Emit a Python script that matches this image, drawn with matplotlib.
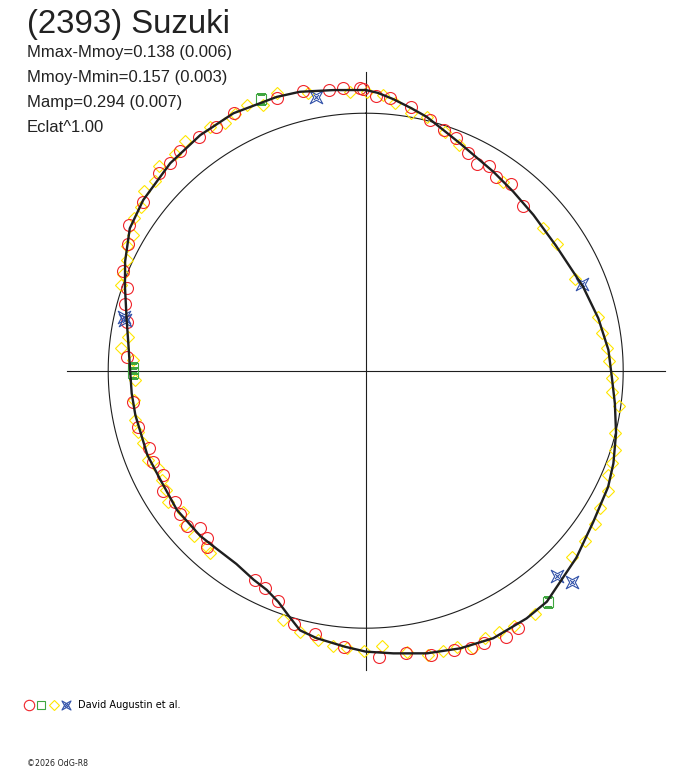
import numpy as np
import matplotlib
matplotlib.use('Agg')
import matplotlib.pyplot as plt
from matplotlib.lines import Line2D
from matplotlib.legend_handler import HandlerTuple
from matplotlib.path import Path

# ---------------- data ----------------
title = "(2393) Suzuki"
stats_lines = ["Mmax-Mmoy=0.138 (0.006)", "Mmoy-Mmin=0.157 (0.003)",
               "Mamp=0.294 (0.007)", "Eclat^1.00"]
legend_label = "David Augustin et al."
footer = "\u00a92026 OdG-R8"

# fitted lightcurve: phase angle (deg, clockwise from top) and radius (ref circle = 1)
fit_phase = [0, 2.5, 5.8, 9.8, 13.5, 17.9, 22.5, 32.7, 39.5, 47.1, 56.6, 68.9, 77.3, 85.1,
             91.4, 97.5, 104, 110.5, 115.6, 123.6, 131.6, 141.9, 147, 154.5, 161.2, 167.8,
             174.4, 180, 184.3, 190.4, 194.2, 197.1, 200.7, 204.3, 208.2, 213.8, 220, 225,
             233.6, 242.7, 248.9, 259.1, 264.5, 270.2, 276.6, 282, 289.2, 294.4, 301.1,
             307.5, 316.7, 324.9, 332.8, 342, 346.7, 353.4, 360]
fit_radius = [1.090, 1.080, 1.060, 1.035, 1.014, 0.982, 0.956, 0.918, 0.901, 0.889, 0.884,
              0.905, 0.926, 0.946, 0.956, 0.976, 1.002, 1.027, 1.044, 1.061, 1.094, 1.140,
              1.147, 1.151, 1.139, 1.123, 1.103, 1.091, 1.075, 1.056, 1.040, 1.002, 0.960,
              0.934, 0.921, 0.903, 0.902, 0.908, 0.911, 0.903, 0.909, 0.911, 0.913, 0.915,
              0.928, 0.949, 0.990, 1.026, 1.070, 1.089, 1.107, 1.118, 1.124, 1.118, 1.113,
              1.097, 1.090]

red_phase = [347.4, 352.6, 355.5, 358.8, 341.9, 333.0, 328.4, 324.4, 319.8, 316.7, 313.6,
             307.1, 301.6, 298.1, 292.4, 289.1, 285.4, 281.6, 273.3,
             359.4, 2.1, 5.0, 9.7, 14.4, 18.1, 21.1, 25.3, 28.3, 31.1, 34.0, 37.9, 43.6,
             149.3, 152.2, 156.5, 159.3, 162.4, 167.1, 171.9, 177.3,
             262.3, 256.2, 250.4, 246.7, 242.8, 239.3, 235.5, 232.3, 229.1, 226.4, 223.6,
             222.0, 207.9, 204.8, 200.8, 195.7, 190.9, 184.4]
red_radius = [1.114, 1.099, 1.103, 1.097, 1.115, 1.124, 1.112, 1.115, 1.117, 1.107, 1.111,
              1.086, 1.080, 1.047, 1.021, 0.979, 0.969, 0.945, 0.930,
              1.094, 1.068, 1.062, 1.039, 1.005, 0.982, 0.970, 0.934, 0.913, 0.930, 0.906,
              0.917, 0.884,
              1.160, 1.167, 1.154, 1.153, 1.138, 1.133, 1.109, 1.114,
              0.911, 0.910, 0.892, 0.901, 0.886, 0.914, 0.899, 0.911, 0.920, 0.888, 0.896,
              0.920, 0.920, 0.931, 0.957, 1.023, 1.042, 1.075]

yellow_phase = [356.8, 0.2, 348.3, 342.2, 338.9, 335.9, 333.0, 330.4, 327.4, 321.8, 318.7,
                314.7, 312.0, 309.0, 306.1, 303.4, 300.3, 297.7, 294.8, 291.7, 289.3, 278.2,
                275.2, 272.6,
                3.5, 6.3, 9.9, 13.5, 18.4, 22.5, 36.1, 51.3, 56.5, 66.3, 76.9, 81.0, 84.6, 87.7,
                91.6, 94.9, 97.9, 104.1, 107.6, 110.6, 113.3, 116.4, 120.3, 123.8, 127.8,
                132.1, 145.2, 149.8, 152.9, 155.9, 158.8, 161.8, 164.5, 167.6, 171.7, 176.7,
                180.3,
                267.7, 262.8, 257.9, 255.0, 251.9, 247.7, 244.8, 241.8, 239.1, 236.4, 232.3,
                229.5, 226.1, 222.1, 220.5, 198.3, 194.1, 190.0, 186.7, 183.9]
yellow_radius = [1.085, 1.083, 1.100, 1.131, 1.106, 1.131, 1.118, 1.105, 1.122, 1.135, 1.121,
                 1.131, 1.101, 1.110, 1.080, 1.080, 1.045, 1.045, 1.023, 1.014, 1.008, 0.931,
                 0.955, 0.903,
                 1.073, 1.045, 1.015, 1.014, 0.978, 0.949, 0.908, 0.884, 0.889, 0.887, 0.927,
                 0.928, 0.942, 0.947,
                 0.956, 0.961, 0.994, 0.998, 1.016, 1.023, 1.023, 1.050, 1.054, 1.072, 1.078,
                 1.082, 1.152, 1.146, 1.139, 1.136, 1.156, 1.129, 1.129, 1.131, 1.105, 1.070,
                 1.089,
                 0.897, 0.907, 0.916, 0.914, 0.909, 0.913, 0.890, 0.899, 0.903, 0.920, 0.895,
                 0.923, 0.924, 0.921, 0.932, 1.020, 1.045, 1.062, 1.075, 1.080]

green_phase = [338.9, 270.6, 269.4, 141.8]
green_radius = [1.130, 0.903, 0.904, 1.143]

blue_phase = [349.7, 282.5, 281.8, 68.2, 137.1, 135.8]
blue_radius = [1.081, 0.961, 0.955, 0.903, 1.089, 1.147]

ref_radius = 1.0
axis_extent = 1.161

# ---------------- figure ----------------
W, H = 688, 768
fig = plt.figure(figsize=(W / 100, H / 100), dpi=100)
fig.patch.set_facecolor('white')

cx, cy, rpx = 365.7, 370.7, 257.5
rmax = 1.2
half = rmax * rpx
ax = fig.add_axes([(cx - half) / W, (H - cy - half) / H, 2 * half / W, 2 * half / H],
                  projection='polar')
ax.set_theta_zero_location('N')
ax.set_theta_direction(-1)
ax.set_rlim(0, rmax)
ax.set_axis_off()

line_col = '#1e1e1e'
# reference circle
tt = np.linspace(0, 2 * np.pi, 721)
ax.plot(tt, np.full_like(tt, ref_radius), color=line_col, lw=0.8)
# cross axes
for a in [0, 90, 180, 270]:
    ax.plot([np.deg2rad(a), np.deg2rad(a)], [0, axis_extent], color=line_col, lw=0.8)

# star marker (concave 4-point star with an inner cross)
q = 0.45
star_verts = [(1, 1), (q, 0), (1, -1), (0, -q), (-1, -1), (-q, 0), (-1, 1), (0, q), (1, 1),
              (-0.4, -0.4), (0.4, 0.4), (-0.4, 0.4), (0.4, -0.4)]
star_codes = [Path.MOVETO] + [Path.LINETO] * 7 + [Path.CLOSEPOLY,
              Path.MOVETO, Path.LINETO, Path.MOVETO, Path.LINETO]
star_marker = Path(star_verts, star_codes)

red_c = '#f0242a'
yel_c = '#ffe600'
grn_c = '#3fa63f'
blu_c = '#3050a8'
mew = 0.8

ax.plot(np.deg2rad(yellow_phase), yellow_radius, ls='none', marker='D', ms=6.5,
        mfc='none', mec=yel_c, mew=mew)
ax.plot(np.deg2rad(red_phase), red_radius, ls='none', marker='o', ms=8.6,
        mfc='none', mec=red_c, mew=mew)
ax.plot(np.deg2rad(green_phase), green_radius, ls='none', marker='s', ms=6.5,
        mfc='none', mec=grn_c, mew=mew)
ax.plot(np.deg2rad(blue_phase), blue_radius, ls='none', marker=star_marker, ms=9,
        mfc='none', mec=blu_c, mew=mew)

ax.plot(np.deg2rad(fit_phase), fit_radius, color=line_col, lw=1.7)

# ---------------- texts ----------------
fig.text(27 / W, 1 - 33.5 / H, title, family='Liberation Sans', fontsize=23.8,
         color='#222222', va='baseline', ha='left')
for i, s in enumerate(stats_lines):
    fig.text(27 / W, 1 - (56.7 + 25 * i) / H, s, family='Liberation Sans', fontsize=12,
             color='#222222', va='baseline', ha='left')

leg_fs = 7
h1 = Line2D([], [], ls='none', marker='o', ms=7.5, mfc='none', mec=red_c, mew=mew)
h2 = Line2D([], [], ls='none', marker='s', ms=6, mfc='none', mec=grn_c, mew=mew)
h3 = Line2D([], [], ls='none', marker='D', ms=5.5, mfc='none', mec=yel_c, mew=mew)
h4 = Line2D([], [], ls='none', marker=star_marker, ms=6.5, mfc='none', mec=blu_c, mew=mew)
leg = fig.legend(handles=[(h1, h2, h3, h4)], labels=[legend_label],
                 handler_map={tuple: HandlerTuple(ndivide=None, pad=0)},
                 loc='center left', bbox_to_anchor=(23 / W, 1 - 705 / H),
                 frameon=False, handlelength=5.05, handletextpad=0.6,
                 prop={'family': 'DejaVu Sans', 'size': leg_fs}, borderpad=0, borderaxespad=0)

fig.text(27 / W, 1 - 766 / H, footer, family='DejaVu Sans', fontsize=5.7,
         color='#222222', va='baseline', ha='left')

fig.savefig('out.png', dpi=100, facecolor='white')
